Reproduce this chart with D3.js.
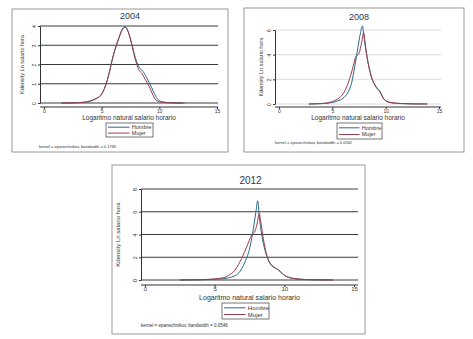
<!DOCTYPE html>
<html>
<head>
<meta charset="utf-8">
<script src="https://cdn.jsdelivr.net/npm/d3@7"></script>
<style>
  body { margin: 0; background: #fff; }
  svg { display: block; font-family: "Liberation Sans", Arial, sans-serif; }
</style>
</head>
<body>
<div id="vis"></div>
<script>
// density curves (x = ln hourly wage, y = density)
const years = ["2004", "2008", "2012"];
const seriesNames = ["Hombre", "Mujer"];
const bandwidths = ["0.1769", "0.0562", "0.0546"];
const xTicks = [0, 5, 10, 15];
const yTicks04 = [0, 1, 2, 3, 4];
const yTicks08 = [0, 2, 4, 6];
const yTicks12 = [0, 2, 4, 6, 8];

const hombre04x = [1.5, 3.0, 4.0, 4.5, 5.0, 5.5, 6.0, 6.5, 6.8, 7.05, 7.3, 7.6, 7.9, 8.2, 8.6, 9.0, 9.3, 9.6, 9.9, 10.3, 10.8, 11.5, 12.2];
const hombre04y = [0.0, 0.02, 0.1, 0.22, 0.45, 1.2, 2.45, 3.4, 3.85, 3.96, 3.7, 3.1, 2.4, 1.9, 1.63, 1.2, 0.85, 0.45, 0.17, 0.06, 0.02, 0.005, 0];
const mujer04x = [1.5, 3.0, 4.0, 4.5, 5.0, 5.5, 6.0, 6.5, 6.8, 7.05, 7.3, 7.6, 7.9, 8.2, 8.5, 8.8, 9.2, 9.45, 9.7, 10.1, 10.6, 11.3, 12.0];
const mujer04y = [0.0, 0.02, 0.1, 0.23, 0.47, 1.22, 2.45, 3.38, 3.82, 3.93, 3.7, 3.05, 2.3, 1.75, 1.52, 1.2, 0.76, 0.4, 0.16, 0.05, 0.02, 0.005, 0];

const hombre08x = [2.8, 4.0, 5.0, 5.5, 6.0, 6.5, 6.8, 7.1, 7.41, 7.65, 7.82, 7.95, 8.1, 8.25, 8.66, 9.07, 9.44, 9.9, 10.5, 11.5, 12.5, 13.9];
const hombre08y = [0, 0.03, 0.12, 0.25, 0.46, 1.0, 1.68, 3.03, 4.65, 5.8, 6.33, 5.6, 4.6, 3.84, 2.2, 1.4, 1.0, 0.32, 0.1, 0.03, 0.01, 0];
const mujer08x = [2.8, 4.0, 5.0, 5.7, 6.1, 6.48, 6.95, 7.2, 7.5, 7.75, 7.94, 8.05, 8.25, 8.66, 9.07, 9.44, 9.9, 10.5, 11.5, 12.5, 13.9];
const mujer08y = [0, 0.04, 0.2, 0.54, 0.95, 1.68, 3.03, 3.84, 4.1, 5.0, 5.78, 5.1, 3.84, 2.2, 1.45, 1.05, 0.35, 0.12, 0.04, 0.01, 0];

const hombre12x = [2.5, 4.0, 5.0, 5.5, 5.98, 6.4, 6.7, 7.18, 7.54, 7.78, 7.95, 8.09, 8.2, 8.38, 8.61, 8.97, 9.57, 10.17, 11.0, 12.0, 13.5];
const hombre12y = [0, 0.02, 0.06, 0.1, 0.18, 0.35, 0.59, 1.6, 2.92, 4.53, 5.9, 6.96, 5.6, 3.95, 2.63, 1.46, 0.88, 0.29, 0.08, 0.02, 0];
const mujer12x = [2.5, 4.0, 5.0, 5.62, 6.0, 6.46, 6.94, 7.3, 7.66, 7.9, 8.05, 8.2, 8.3, 8.45, 8.65, 8.97, 9.57, 10.17, 11.0, 12.0, 13.5];
const mujer12y = [0, 0.03, 0.1, 0.2, 0.4, 0.88, 1.9, 2.92, 3.95, 4.3, 5.0, 5.85, 5.2, 3.95, 2.63, 1.5, 0.9, 0.3, 0.09, 0.02, 0];

const colors = ["#2b6a8c", "#9a3a4c"];

const svg = d3.select('#vis').append('svg')
    .attr('width', 473)
    .attr('height', 339);

function pts(xs, ys) {
    return xs.map((x, i) => ({ x: x, y: ys[i] }));
}

// layout of each panel (pixel boxes)
const panels = [
    { year: years[0], bw: bandwidths[0], yTicks: yTicks04, yMax: 4,
      series: [pts(hombre04x, hombre04y), pts(mujer04x, mujer04y)],
      frame: [12, 9, 228, 152], axisX: 40, axisY: 107, plotRight: 218,
      xr: [44, 217], yr: [103, 26], grid: "#3a3a3a",
      titleY: 19, titleSize: 9, ytitleX: 22, xlabY: 120, font: 6.5, tickFont: 5,
      legend: [106, 123, 47, 14], noteX: 39, noteY: 148 },
    { year: years[1], bw: bandwidths[1], yTicks: yTicks08, yMax: 6,
      series: [pts(hombre08x, hombre08y), pts(mujer08x, mujer08y)],
      frame: [244, 8, 464, 152], axisX: 275, axisY: 107, plotRight: 441,
      xr: [279, 439], yr: [104, 30], grid: "#dcdcdc",
      titleY: 20, titleSize: 9, ytitleX: 261, xlabY: 120, font: 6.5, tickFont: 5,
      legend: [337, 123, 45, 16], noteX: 275, noteY: 144 },
    { year: years[2], bw: bandwidths[2], yTicks: yTicks12, yMax: 8,
      series: [pts(hombre12x, hombre12y), pts(mujer12x, mujer12y)],
      frame: [112, 165, 365, 334], axisX: 141, axisY: 285, plotRight: 358,
      xr: [145, 354], yr: [280, 189], grid: "#3a3a3a",
      titleY: 184, titleSize: 10, ytitleX: 118, xlabY: 300, font: 7, tickFont: 6,
      legend: [222, 303, 47, 16], noteX: 141, noteY: 327 }
];

panels.forEach(drawPanel);

function drawPanel(p) {
    const g = svg.append('g');
    const x = d3.scaleLinear().domain([0, 15]).range(p.xr);
    const y = d3.scaleLinear().domain([0, p.yMax]).range(p.yr);

    g.append('rect')
        .attr('x', p.frame[0]).attr('y', p.frame[1])
        .attr('width', p.frame[2] - p.frame[0])
        .attr('height', p.frame[3] - p.frame[1])
        .attr('fill', '#fff')
        .attr('stroke', '#9a9a9a')
        .attr('stroke-width', 1);

    // gridlines
    g.selectAll('.grid').data(p.yTicks).enter().append('line')
        .attr('x1', p.axisX).attr('x2', p.plotRight)
        .attr('y1', d => y(d)).attr('y2', d => y(d))
        .attr('stroke', p.grid)
        .attr('stroke-width', 1);

    // y axis
    const yAxis = g.append('g')
        .attr('transform', `translate(${p.axisX},0)`)
        .call(d3.axisLeft(y).tickValues(p.yTicks).tickFormat(d3.format('d')).tickSize(2).tickSizeOuter(0));
    yAxis.select('.domain').attr('stroke', '#333');
    yAxis.selectAll('.tick line').attr('stroke', '#333');
    yAxis.selectAll('.tick text')
        .attr('font-size', p.tickFont)
        .attr('fill', '#333')
        .attr('x', 0).attr('dy', 0)
        .attr('text-anchor', 'middle')
        .attr('transform', 'translate(-4,0) rotate(-90)');

    // x axis
    const xAxis = g.append('g')
        .attr('transform', `translate(0,${p.axisY})`)
        .call(d3.axisBottom(x).tickValues(xTicks).tickFormat(d3.format('d')).tickSize(2).tickSizeOuter(0));
    xAxis.select('.domain').attr('d', `M${p.axisX},0H${p.plotRight}`).attr('stroke', '#333');
    xAxis.selectAll('.tick line').attr('stroke', '#333');
    xAxis.selectAll('.tick text')
        .attr('font-size', p.tickFont)
        .attr('fill', '#333')
        .attr('y', 2);

    // curves
    const line = d3.line()
        .x(d => x(d.x))
        .y(d => y(d.y))
        .curve(d3.curveMonotoneX);
    p.series.forEach((s, i) => {
        g.append('path')
            .datum(s)
            .attr('fill', 'none')
            .attr('stroke', colors[i])
            .attr('stroke-width', 1)
            .attr('d', line);
    });

    // titles
    g.append('text')
        .attr('x', (p.axisX + p.plotRight) / 2 + 1).attr('y', p.titleY)
        .attr('text-anchor', 'middle')
        .attr('font-size', p.titleSize)
        .attr('fill', '#1f3a5a')
        .text(p.year);

    g.append('text')
        .attr('transform', `translate(${p.ytitleX},${(p.yr[0] + p.yr[1]) / 2}) rotate(-90)`)
        .attr('text-anchor', 'middle')
        .attr('dy', '0.35em')
        .attr('font-size', p.font - 1)
        .attr('fill', '#333')
        .text('Kdensity Ln salario hora');

    g.append('text')
        .attr('x', (p.axisX + p.plotRight) / 2).attr('y', p.xlabY)
        .attr('text-anchor', 'middle')
        .attr('font-size', p.font)
        .attr('fill', '#333')
        .text('Logaritmo natural salario horario');

    // legend
    const [lx, ly, lw, lh] = p.legend;
    g.append('rect')
        .attr('x', lx).attr('y', ly).attr('width', lw).attr('height', lh)
        .attr('fill', '#fff').attr('stroke', '#555').attr('stroke-width', 0.8);
    seriesNames.forEach((name, i) => {
        const yy = ly + lh * (i === 0 ? 0.3 : 0.72);
        g.append('line')
            .attr('x1', lx + 2).attr('x2', lx + lw * 0.5)
            .attr('y1', yy).attr('y2', yy)
            .attr('stroke', colors[i]).attr('stroke-width', 1);
        g.append('text')
            .attr('x', lx + lw * 0.55).attr('y', yy)
            .attr('dy', '0.35em')
            .attr('font-size', p.font - 1)
            .attr('fill', '#333')
            .text(name);
    });

    g.append('text')
        .attr('x', p.noteX).attr('y', p.noteY)
        .attr('font-size', p.font - 2.5)
        .attr('fill', '#333')
        .text('kernel = epanechnikov, bandwidth = ' + p.bw);
}
</script>
</body>
</html>
